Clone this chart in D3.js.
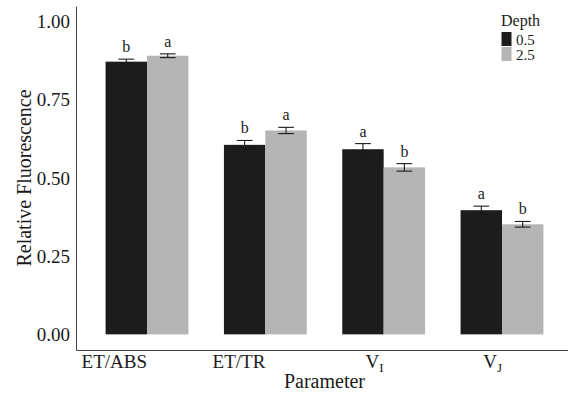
<!DOCTYPE html>
<html>
<head>
<meta charset="utf-8">
<script src="https://cdn.jsdelivr.net/npm/d3@7"></script>
<style>
  body { margin: 0; background: #fff; }
  text { font-family: "Liberation Serif", "Times New Roman", serif; fill: #1a1a1a; }
</style>
</head>
<body>
<div id="main"></div>
<script>
// data
var parameters = ["ET/ABS", "ET/TR", "VI", "VJ"];
var tickMain = ["ET/ABS", "ET/TR", "V", "V"];
var tickSub = ["", "", "I", "J"];
var depths = ["0.5", "2.5"];
var mean05 = [0.872, 0.606, 0.592, 0.397];
var se05 = [0.008, 0.014, 0.018, 0.013];
var mean25 = [0.891, 0.652, 0.534, 0.352];
var se25 = [0.006, 0.010, 0.012, 0.009];
var letters05 = ["b", "b", "a", "a"];
var letters25 = ["a", "a", "b", "b"];
var yTicks = [0, 0.25, 0.5, 0.75, 1];

var width = 568, height = 396;
var colors = ["#1c1c1c", "#b5b5b5"];

var svg = d3.select("#main").append("svg")
    .attr("width", width)
    .attr("height", height);

// scales (ggplot-like expansion)
var x = d3.scaleBand()
    .domain(parameters)
    .range([76, 573])
    .paddingInner(0)
    .paddingOuter(0.1);

var y = d3.scaleLinear()
    .domain([-0.05, 1.05])
    .range([350, 6]);

var sub = d3.scaleBand()
    .domain(depths)
    .range([0, x.bandwidth() * 0.7]);

// long table for drawing
var rows = [];
parameters.forEach(function(p, i) {
    rows.push({p: p, d: depths[0], mean: mean05[i], se: se05[i], letter: letters05[i]});
    rows.push({p: p, d: depths[1], mean: mean25[i], se: se25[i], letter: letters25[i]});
});

function barX(d) {
    return x(d.p) + x.bandwidth() * 0.15 + sub(d.d);
}

// bars
svg.selectAll(".bar")
    .data(rows)
    .enter().append("rect")
    .attr("class", "bar")
    .attr("x", barX)
    .attr("width", sub.bandwidth())
    .attr("y", function(d) { return y(d.mean); })
    .attr("height", function(d) { return y(0) - y(d.mean); })
    .style("fill", function(d) { return colors[depths.indexOf(d.d)]; });

// error bars
var capW = sub.bandwidth() * 0.38;
var eb = svg.selectAll(".err")
    .data(rows)
    .enter().append("g")
    .attr("class", "err")
    .attr("transform", function(d) { return "translate(" + (barX(d) + sub.bandwidth() / 2) + ",0)"; })
    .style("stroke", "#1a1a1a")
    .style("stroke-width", 1.1);

eb.append("line")
    .attr("y1", function(d) { return y(d.mean + d.se); })
    .attr("y2", function(d) { return y(d.mean - d.se); });
eb.append("line")
    .attr("x1", -capW / 2).attr("x2", capW / 2)
    .attr("y1", function(d) { return y(d.mean + d.se); })
    .attr("y2", function(d) { return y(d.mean + d.se); });
eb.append("line")
    .attr("x1", -capW / 2).attr("x2", capW / 2)
    .attr("y1", function(d) { return y(d.mean - d.se); })
    .attr("y2", function(d) { return y(d.mean - d.se); });

// significance letters
svg.selectAll(".letter")
    .data(rows)
    .enter().append("text")
    .attr("class", "letter")
    .attr("x", function(d) { return barX(d) + sub.bandwidth() / 2; })
    .attr("y", function(d) { return y(d.mean + d.se) - 7; })
    .attr("text-anchor", "middle")
    .style("font-size", "16px")
    .text(function(d) { return d.letter; });

// y axis
var yAxis = svg.append("g")
    .attr("transform", "translate(76,0)")
    .call(d3.axisLeft(y).tickValues(yTicks).tickFormat(d3.format(".2f")).tickSize(0).tickPadding(6));
yAxis.select(".domain").attr("stroke", "#444").attr("stroke-width", 1);
yAxis.selectAll(".tick text")
    .style("font-size", "19px")
    .style("font-family", "'Liberation Serif', 'Times New Roman', serif")
    .attr("fill", "#1a1a1a");

// x axis
var xAxis = svg.append("g")
    .attr("transform", "translate(0,350)")
    .call(d3.axisBottom(x).tickSize(0).tickFormat(""));
xAxis.select(".domain").attr("stroke", "#444").attr("stroke-width", 1);

// x tick labels, right-aligned on the group centre
var xl = svg.selectAll(".xlab")
    .data(parameters)
    .enter().append("text")
    .attr("class", "xlab")
    .attr("x", function(d) { return x(d) + x.bandwidth() / 2; })
    .attr("y", 368)
    .attr("text-anchor", "end")
    .style("font-size", "19px");
xl.append("tspan").text(function(d, i) { return tickMain[i]; });
xl.append("tspan")
    .attr("dy", 4)
    .style("font-size", "13px")
    .text(function(d, i) { return tickSub[i]; });

// axis titles
svg.append("text")
    .attr("x", (76 + 573) / 2)
    .attr("y", 388)
    .attr("text-anchor", "middle")
    .style("font-size", "20px")
    .text("Parameter");

svg.append("text")
    .attr("transform", "translate(31," + (y(0.5)) + ") rotate(-90)")
    .attr("text-anchor", "middle")
    .style("font-size", "20px")
    .text("Relative Fluorescence");

// legend
var legend = svg.append("g").attr("transform", "translate(501,0)");
legend.append("text")
    .attr("x", 0).attr("y", 26)
    .style("font-size", "16px")
    .text("Depth");
legend.selectAll(".key")
    .data(depths)
    .enter().append("rect")
    .attr("x", 0.5)
    .attr("y", function(d, i) { return 32 + i * 15; })
    .attr("width", 10)
    .attr("height", 14)
    .style("fill", function(d, i) { return colors[i]; });
legend.selectAll(".klab")
    .data(depths)
    .enter().append("text")
    .attr("x", 15)
    .attr("y", function(d, i) { return 45 + i * 15; })
    .style("font-size", "15px")
    .text(function(d) { return d; });
</script>
</body>
</html>
